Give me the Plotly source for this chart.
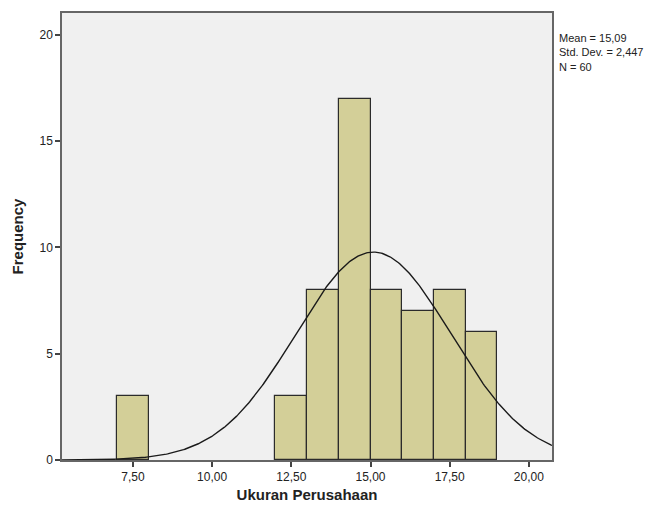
import numpy as np
import plotly.graph_objects as go

# Data
bin_left_edges = [7, 12, 13, 14, 15, 16, 17, 18]
frequencies = [3, 3, 8, 17, 8, 7, 8, 6]
bin_width = 1.0
mean_val = 15.09
std_val = 2.447
n_val = 60
x_tick_vals = [7.5, 10.0, 12.5, 15.0, 17.5, 20.0]
x_tick_labels = ["7,50", "10,00", "12,50", "15,00", "17,50", "20,00"]
y_tick_vals = [0, 5, 10, 15, 20]

centers = [e + bin_width / 2 for e in bin_left_edges]

x_min, x_max = 5.26, 20.73
xs = np.linspace(x_min, x_max, 400)
ys = n_val * bin_width / (std_val * np.sqrt(2 * np.pi)) * np.exp(-0.5 * ((xs - mean_val) / std_val) ** 2)

fig = go.Figure()
fig.add_trace(go.Bar(
    x=centers, y=frequencies, width=bin_width,
    marker=dict(color="#D3CF98", line=dict(color="#2b2b2b", width=1.2)),
    hoverinfo="x+y", showlegend=False,
))
fig.add_trace(go.Scatter(
    x=xs, y=ys, mode="lines",
    line=dict(color="#1a1a1a", width=1.4),
    showlegend=False, hoverinfo="skip",
))

fig.update_layout(
    width=660, height=505,
    margin=dict(l=54, r=116, t=5, b=53),
    paper_bgcolor="white",
    plot_bgcolor="#F0F0F0",
    font=dict(family="Liberation Sans, Arial, sans-serif", color="#222", size=11),
    bargap=0,
    xaxis=dict(
        range=[x_min, x_max], tickmode="array", tickvals=x_tick_vals, ticktext=x_tick_labels,
        ticks="outside", ticklen=5, tickcolor="#444", tickwidth=1.5,
        showgrid=False, zeroline=False, automargin=False,
        showline=True, mirror=True, linecolor="#666", linewidth=1.5,
        tickfont=dict(size=12),
        title=dict(text="<b>Ukuran Perusahaan</b>", font=dict(size=15), standoff=6),
    ),
    yaxis=dict(
        range=[0, 21.03], tickmode="array", tickvals=y_tick_vals,
        ticks="outside", ticklen=5, tickcolor="#444", tickwidth=1.5,
        showgrid=False, zeroline=False, automargin=False,
        showline=True, mirror=True, linecolor="#666", linewidth=1.5,
        tickfont=dict(size=12),
        title=dict(text="<b>Frequency</b>", font=dict(size=15), standoff=12),
    ),
    annotations=[dict(
        xref="paper", yref="paper", x=1.0, y=0.962, xanchor="left", yanchor="top",
        xshift=5, align="left", showarrow=False,
        text="Mean = 15,09<br>Std. Dev. = 2,447<br>N = 60",
        font=dict(size=11, color="#222"),
    )],
)

fig.write_html("out.html")
